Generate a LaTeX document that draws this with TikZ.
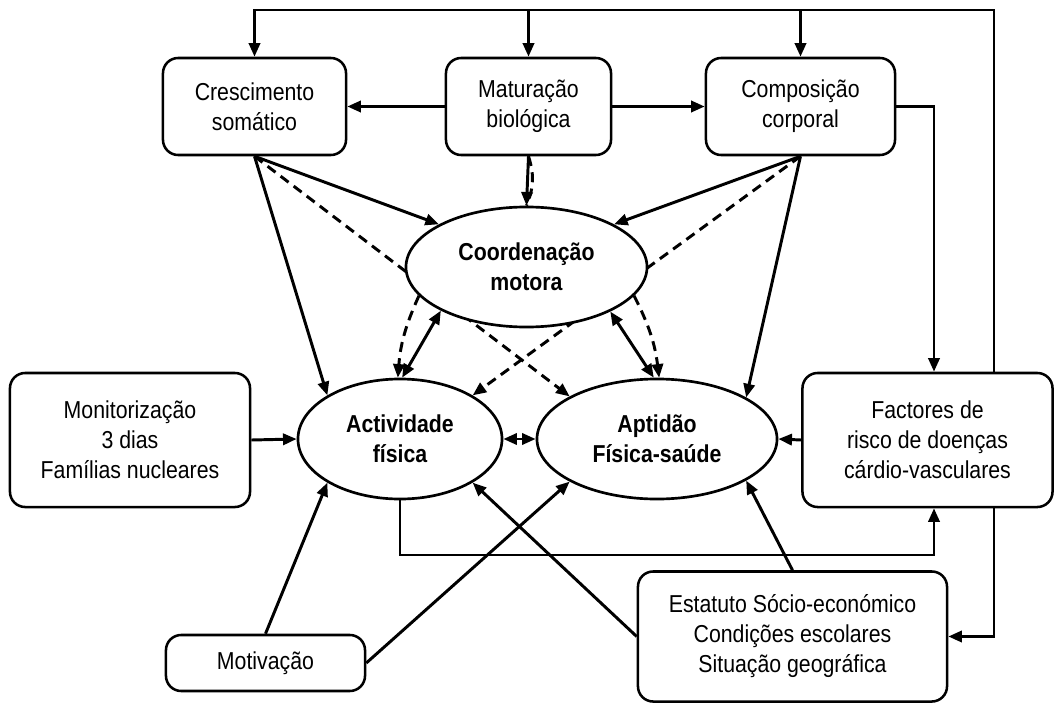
\documentclass[tikz,border=0pt]{standalone}
\usepackage{fontspec}
\setmainfont{Liberation Sans}[FakeStretch=0.87]
\usetikzlibrary{arrows.meta,shapes.geometric}
\pgfdeclarelayer{background}
\pgfsetlayers{background,main}

\begin{document}
\begin{tikzpicture}[x=0.025cm, y=-0.025cm, >={Triangle[length=3.4mm,width=2.8mm]},
  box/.style={draw, line width=1.8pt, rectangle, rounded corners=0.38cm, align=center, inner sep=0pt, font=\fontsize{17.4}{21.3}\selectfont},
  oval/.style={draw, line width=1.9pt, ellipse, fill=white, align=center, inner sep=0pt, font=\fontsize{17.4}{21.3}\selectfont\bfseries},
  conn/.style={line width=2.1pt},
  dashline/.style={line width=2.1pt, dash pattern=on 0.25cm off 0.16cm}]
\useasboundingbox (0,0) rectangle (1055,704);

\node[box, minimum width=4.575cm, minimum height=2.425cm] (cres) at (254.5,106.5) {Crescimento\\somático};
\node[box, minimum width=4.125cm, minimum height=2.425cm] (mat) at (528.5,106.5) {Maturação\\biológica};
\node[box, minimum width=4.725cm, minimum height=2.425cm] (comp) at (800.5,106.5) {Composição\\corporal};
\node[box, minimum width=6cm, minimum height=3.35cm] (mon) at (130,440) {Monitorização\\3 dias\\Famílias nucleares};
\node[box, minimum width=4.975cm, minimum height=1.4cm] (mot) at (265.5,663) {Motivação};
\node[box, minimum width=6.25cm, minimum height=3.35cm] (fac) at (927.5,440) {Factores de\\risco de doenças\\cárdio-vasculares};
\node[box, minimum width=7.725cm, minimum height=3.25cm] (est) at (792.5,636.5) {Estatuto Sócio-económico\\Condições escolares\\Situação geográfica};

\node[oval, minimum width=6.025cm, minimum height=3cm] (coord) at (526.5,267) {Coordenação\\motora};
\node[oval, minimum width=5.1cm, minimum height=3cm] (act) at (400,439) {Actividade\\física};
\node[oval, minimum width=6cm, minimum height=3cm] (apt) at (657,439) {Aptidão\\Física-saúde};

\coordinate (tr) at (994,10);
\coordinate (kx) at (934,555);

% outer loop
\draw[conn, ->] (fac.north -| tr) -- (tr) -| (cres.north);
\draw[conn, ->] (mat.north |- tr) -- (mat.north);
\draw[conn, ->] (comp.north |- tr) -- (comp.north);
\draw[conn, ->] (fac.south -| tr) |- (est.east);

\draw[conn, ->] (mat.west) -- (cres.east);
\draw[conn, ->] (mat.east) -- (comp.west);
\draw[conn, ->] (comp.east) -| (fac.north -| kx);
\draw[conn, ->] (act.south) |- (kx) -- (fac.south -| kx);

\draw[conn, ->] (mon.east) -- (act.west);
\draw[conn, ->] (fac.west) -- (apt.east);
\draw[conn, <->] (act.east) -- (apt.west);

% from the top boxes
\draw[conn, ->] (cres.south) -- (coord.154);
\draw[conn, ->] (cres.south) -- (act.149);
\draw[conn, ->] (comp.south) -- (coord.26);
\draw[conn, ->] (comp.south) -- (apt.25);
\draw[conn, ->] (mat.south) -- (coord.north);
\draw[dashline] (mat.south) to[bend left=20] (coord.north);

% coordination links
\draw[conn, <->] (coord.207.5) -- (act.88);
\draw[->, dashline] (coord.195) to[bend right=10] (act.92);
\draw[conn, <->] (coord.332.2) -- (apt.93);
\draw[->, dashline] (coord.345) to[bend left=10] (apt.88);

% bottom boxes
\draw[conn, ->] (mot.north) -- (act.211);
\draw[conn, ->] (mot.east) -- (apt.206);
\draw[conn, ->] (est.west) -- (act.329.5);
\draw[conn, ->] (est.north) -- (apt.335);

% dashed lines behind the oval
\begin{pgfonlayer}{background}
\draw[->, dashline] (cres.south) -- (apt.154);
\draw[->, dashline] (comp.south) -- (act.31);
\end{pgfonlayer}
\end{tikzpicture}
\end{document}
